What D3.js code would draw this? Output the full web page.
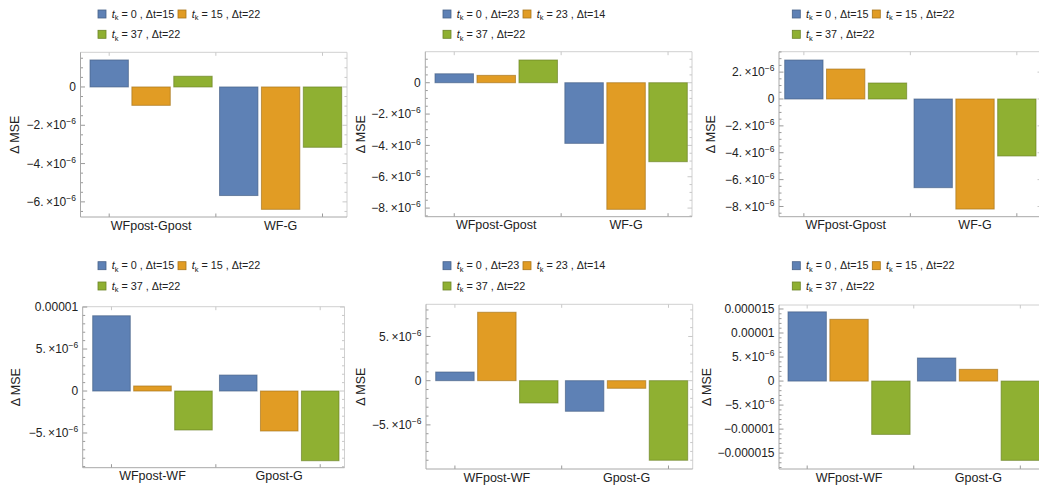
<!DOCTYPE html>
<html>
<head>
<meta charset="utf-8">
<script src="https://cdn.jsdelivr.net/npm/d3@7"></script>
<style>
  body { margin: 0; background: #fff; }
  text { font-family: "Liberation Sans", Arial, sans-serif; fill: #222; }
</style>
</head>
<body>
<svg id="chart" width="1039" height="489"></svg>
<script>
// series colours (Mathematica default bar palette)
const colors = ['#5E81B5', '#E19C24', '#8FB032'];

// legend entries: [t_k, Δt]
const legendA = [['0', '15'], ['15', '22'], ['37', '22']];
const legendB = [['0', '23'], ['23', '14'], ['37', '22']];

const catsTop = ['WFpost-Gpost', 'WF-G'];
const catsBottom = ['WFpost-WF', 'Gpost-G'];

// values in units of 1e-6, [category][series]
const p1Values = [[1.41, -0.96, 0.56], [-5.67, -6.39, -3.15]];
const p2Values = [[0.57, 0.47, 1.45], [-3.87, -8.08, -5.04]];
const p3Values = [[2.90, 2.23, 1.19], [-6.60, -8.19, -4.24]];
const p4Values = [[8.96, 0.60, -4.64], [1.90, -4.76, -8.30]];
const p5Values = [[0.98, 7.74, -2.52], [-3.46, -0.86, -9.00]];
const p6Values = [[14.40, 12.85, -11.10], [4.80, 2.44, -16.50]];

// y ticks (units of 1e-6)
const p1Ticks = [-6, -4, -2, 0];
const p2Ticks = [-8, -6, -4, -2, 0];
const p3Ticks = [-8, -6, -4, -2, 0, 2];
const p4Ticks = [-5, 0, 5, 10];
const p5Ticks = [-5, 0, 5];
const p6Ticks = [-15, -10, -5, 0, 5, 10, 15];

// layout of each panel: frame box, bar extent, y domain, legend origin, axis label x
const panels = [
    { values: p1Values, ticks: p1Ticks, minor: 0.5, cats: catsTop, legend: legendA,
      frame: [80.5, 347, 52.3, 217], bars: [90, 341.7], dom: [-6.79, 1.81], leg: [99, 14], labX: 14 },
    { values: p2Values, ticks: p2Ticks, minor: 0.5, cats: catsTop, legend: legendB,
      frame: [425.3, 692, 51.7, 216.7], bars: [435, 687.3], dom: [-8.55, 1.98], leg: [444, 14], labX: 360 },
    { values: p3Values, ticks: p3Ticks, minor: 0.5, cats: catsTop, legend: legendA,
      frame: [779, 1042, 51.7, 216.7], bars: [784.7, 1036], dom: [-8.76, 3.52], leg: [793.3, 14], labX: 710 },
    { values: p4Values, ticks: p4Ticks, minor: 1, cats: catsBottom, legend: legendA,
      frame: [82.7, 344.5, 306.7, 467.7], bars: [92.7, 339], dom: [-9.13, 10.04], leg: [99, 265.7], labX: 15 },
    { values: p5Values, ticks: p5Ticks, minor: 1, cats: catsBottom, legend: legendB,
      frame: [426, 692.7, 304.3, 469], bars: [435.7, 687.7], dom: [-9.99, 8.64], leg: [444, 265.7], labX: 360 },
    { values: p6Values, ticks: p6Ticks, minor: 1, cats: catsBottom, legend: legendA,
      frame: [779, 1045, 305, 469], bars: [788, 1039.5], dom: [-18.3, 15.83], leg: [793.3, 265.7], labX: 706 }
];

const svg = d3.select('#chart');

function tickLabel(sel, v) {
    if (v === 0) { sel.text('0'); return; }
    const sign = v < 0 ? '\u2212' : '';
    const a = Math.abs(v);
    if (a >= 10) {
        sel.text(sign + (a * 1e-6).toFixed(6).replace(/0+$/, ''));
    } else {
        sel.append('tspan').text(sign + a + '.\u2009\u00d710');
        sel.append('tspan').attr('dy', -5).attr('font-size', 8.5).text('\u22126');
    }
}

panels.forEach(p => {
    const [fx0, fx1, fy0, fy1] = p.frame;
    const g = svg.append('g');

    const y = d3.scaleLinear().domain(p.dom).range([fy1, fy0]);
    const x0 = d3.scaleBand().domain(d3.range(p.cats.length)).range(p.bars).paddingInner(0.057);
    const x1 = d3.scaleBand().domain(d3.range(3)).range([0, x0.bandwidth()]).paddingInner(0.0835);

    // frame: top/right light, left/bottom darker
    g.append('line').attr('x1', fx0).attr('x2', fx1).attr('y1', fy0).attr('y2', fy0).attr('stroke', '#d0d0d0');
    g.append('line').attr('x1', fx1).attr('x2', fx1).attr('y1', fy0).attr('y2', fy1).attr('stroke', '#d0d0d0');

    // minor + major y ticks on both sides
    const minors = d3.range(Math.ceil(p.dom[0] / p.minor) * p.minor, p.dom[1], p.minor);
    minors.forEach(v => {
        const isMajor = p.ticks.some(t => Math.abs(t - v) < 1e-9);
        const len = isMajor ? 4.5 : 2.5;
        g.append('line').attr('x1', fx0).attr('x2', fx0 + len)
            .attr('y1', y(v)).attr('y2', y(v)).attr('stroke', '#999');
        g.append('line').attr('x1', fx1).attr('x2', fx1 - len)
            .attr('y1', y(v)).attr('y2', y(v)).attr('stroke', '#c8c8c8');
    });

    // x ticks: first bar centre, group boundary, last bar centre
    const xt = [x0(0) + x1(0) + x1.bandwidth() / 2,
        (x0(0) + x0.bandwidth() + x0(1)) / 2,
        x0(1) + x1(2) + x1.bandwidth() / 2];
    xt.forEach(xv => {
        g.append('line').attr('x1', xv).attr('x2', xv).attr('y1', fy1).attr('y2', fy1 - 3.5).attr('stroke', '#999');
        g.append('line').attr('x1', xv).attr('x2', xv).attr('y1', fy0).attr('y2', fy0 + 3.5).attr('stroke', '#c8c8c8');
    });

    // bars
    p.values.forEach((row, ci) => {
        row.forEach((v, si) => {
            const c = colors[si];
            g.append('rect')
                .attr('x', x0(ci) + x1(si))
                .attr('y', Math.min(y(0), y(v)))
                .attr('width', x1.bandwidth())
                .attr('height', Math.abs(y(v) - y(0)))
                .attr('fill', c)
                .attr('stroke', d3.color(c).darker(0.9))
                .attr('stroke-opacity', 0.65)
                .attr('stroke-width', 1);
        });
    });

    g.append('line').attr('x1', fx0).attr('x2', fx0).attr('y1', fy0).attr('y2', fy1).attr('stroke', '#a8a8a8');
    g.append('line').attr('x1', fx0).attr('x2', fx1).attr('y1', fy1).attr('y2', fy1).attr('stroke', '#a8a8a8');

    // y tick labels
    p.ticks.forEach(v => {
        const t = g.append('text')
            .attr('x', fx0 - 4.5)
            .attr('y', y(v) + 4.2)
            .attr('text-anchor', 'end')
            .attr('font-size', 12);
        tickLabel(t, v);
    });

    // category labels
    p.cats.forEach((c, ci) => {
        g.append('text')
            .attr('x', x0(ci) + x0.bandwidth() / 2)
            .attr('y', fy1 + 12.5)
            .attr('text-anchor', 'middle')
            .attr('font-size', 12.5)
            .text(c);
    });

    // y axis label
    g.append('text')
        .attr('transform', 'translate(' + (p.labX + 4.5) + ' ' + ((fy0 + fy1) / 2) + ') rotate(-90)')
        .attr('text-anchor', 'middle')
        .attr('font-size', 12.5)
        .text('\u0394 MSE');

    // legend
    const [lx, ly] = p.leg;
    const pos = [[lx, ly], [lx + 80, ly], [lx, ly + 20.3]];
    p.legend.forEach((d, i) => {
        const [px, py] = pos[i];
        g.append('rect')
            .attr('x', px - 1).attr('y', py - 4)
            .attr('width', 8).attr('height', 8)
            .attr('fill', colors[i])
            .attr('stroke', d3.color(colors[i]).darker(0.8))
            .attr('stroke-width', 0.8);
        const t = g.append('text')
            .attr('x', px + 12.7)
            .attr('y', py + 3.7)
            .attr('font-size', 10.8);
        t.append('tspan').attr('font-style', 'italic').text('t');
        t.append('tspan').attr('dy', 2.5).attr('font-size', 7.5).text('k');
        t.append('tspan').attr('dy', -2.5).text(' = ' + d[0] + ' , \u0394t=' + d[1]);
    });
});
</script>
</body>
</html>
